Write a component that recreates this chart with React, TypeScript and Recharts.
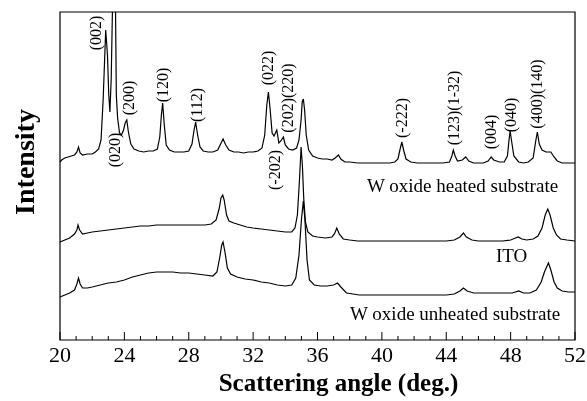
import React from 'react';
import { LineChart, Line, XAxis, YAxis, ReferenceArea, ReferenceDot, Label } from 'recharts';

const angleTicks = [20, 21, 22, 23, 24, 25, 26, 27, 28, 29, 30, 31, 32, 33, 34, 35, 36, 37, 38, 39, 40, 41, 42, 43, 44, 45, 46, 47, 48, 49, 50, 51, 52];
const labeledTicks = [20, 24, 28, 32, 36, 40, 44, 48, 52];

// [scattering angle (deg), intensity (arb.)]
const heatedScan: [number, number][] = [
  [20.0, 178], [20.1, 180], [20.3, 182], [20.5, 183], [20.7, 184], [20.9, 185], [21.05, 188], [21.15, 193], [21.25, 187],
  [21.4, 185], [21.7, 186], [22.0, 186], [22.2, 188], [22.4, 191], [22.55, 200], [22.68, 240], [22.84, 310], [22.95, 285],
  [23.03, 245], [23.1, 228], [23.18, 260], [23.27, 340], [23.37, 420], [23.45, 330], [23.5, 245], [23.58, 222], [23.7, 207],
  [23.82, 205], [23.95, 210], [24.05, 217], [24.15, 220], [24.25, 208], [24.4, 196], [24.6, 191], [24.9, 189], [25.2, 188],
  [25.5, 189], [25.8, 189], [26.05, 191], [26.2, 203], [26.3, 225], [26.38, 237], [26.48, 215], [26.6, 195], [26.8, 190],
  [27.1, 188], [27.4, 188], [27.7, 188], [28.0, 189], [28.2, 196], [28.33, 210], [28.43, 218], [28.55, 205], [28.7, 193],
  [28.9, 189], [29.2, 188], [29.5, 188], [29.8, 190], [29.95, 195], [30.13, 201], [30.3, 195], [30.5, 190], [30.8, 188],
  [31.1, 188], [31.4, 187], [31.7, 188], [32.0, 188], [32.3, 189], [32.55, 192], [32.72, 205], [32.85, 235], [32.95, 248],
  [33.05, 232], [33.18, 207], [33.3, 204], [33.47, 210], [33.6, 197], [33.72, 199], [33.88, 203], [34.0, 195], [34.2, 191],
  [34.45, 190], [34.7, 192], [34.85, 200], [34.98, 220], [35.05, 238], [35.12, 241], [35.2, 230], [35.3, 205], [35.45, 190],
  [35.7, 184], [36.0, 182], [36.3, 181], [36.6, 181], [36.9, 180], [37.1, 182], [37.3, 185], [37.45, 181], [37.7, 178],
  [38.0, 178], [38.5, 177], [39.0, 177], [39.5, 177], [40.0, 177], [40.5, 177], [40.8, 178], [41.0, 181], [41.12, 190],
  [41.24, 198], [41.35, 190], [41.5, 181], [41.8, 178], [42.2, 177], [42.6, 177], [43.0, 177], [43.4, 177], [43.8, 177],
  [44.2, 178], [44.35, 184], [44.44, 190], [44.55, 184], [44.7, 179], [45.0, 180], [45.21, 183], [45.4, 179], [45.7, 177],
  [46.0, 177], [46.3, 177], [46.6, 179], [46.79, 183], [46.95, 180], [47.3, 178], [47.6, 178], [47.8, 184], [47.9, 200],
  [47.97, 209], [48.05, 200], [48.2, 184], [48.5, 178], [48.8, 177], [49.1, 178], [49.4, 182], [49.55, 198], [49.66, 208],
  [49.78, 196], [49.95, 190], [50.2, 188], [50.5, 188], [50.7, 183], [50.9, 179], [51.2, 177], [51.5, 177], [51.8, 177],
  [52.0, 177],
];

const itoScan: [number, number][] = [
  [20.0, 98], [20.3, 100], [20.6, 102], [20.9, 106], [21.05, 110], [21.12, 115], [21.22, 110], [21.4, 106], [21.7, 107],
  [22.0, 108], [22.5, 109], [23.0, 110], [23.5, 111], [24.0, 112], [24.5, 113], [25.0, 114], [25.5, 114], [26.0, 115],
  [26.5, 115], [27.0, 115], [27.5, 115], [28.0, 115], [28.5, 115], [29.0, 115], [29.4, 116], [29.7, 120], [29.9, 132],
  [30.0, 142], [30.11, 145], [30.2, 140], [30.35, 125], [30.5, 119], [30.8, 117], [31.2, 115], [31.6, 113], [32.0, 112],
  [32.5, 111], [33.0, 110], [33.5, 109], [34.0, 108], [34.4, 108], [34.6, 112], [34.75, 125], [34.88, 160], [34.98, 193],
  [35.06, 175], [35.15, 140], [35.25, 118], [35.4, 108], [35.7, 104], [36.0, 103], [36.5, 102], [36.9, 103], [37.05, 106],
  [37.2, 112], [37.35, 106], [37.6, 101], [38.0, 100], [38.5, 99], [39.0, 99], [39.5, 99], [40.0, 99], [40.5, 99],
  [41.0, 99], [41.5, 99], [42.0, 99], [42.5, 99], [43.0, 99], [43.5, 99], [44.0, 99], [44.5, 100], [44.85, 103],
  [45.07, 107], [45.25, 103], [45.6, 100], [46.0, 99], [46.5, 99], [47.0, 99], [47.5, 99], [48.0, 100], [48.3, 102],
  [48.47, 103], [48.7, 101], [49.0, 100], [49.4, 101], [49.7, 104], [49.95, 112], [50.15, 125], [50.31, 131], [50.45, 125],
  [50.65, 112], [50.85, 105], [51.1, 101], [51.5, 100], [52.0, 99],
];

const unheatedScan: [number, number][] = [
  [20.0, 43], [20.3, 45], [20.6, 47], [20.9, 50], [21.05, 56], [21.15, 62], [21.25, 56], [21.4, 52], [21.7, 52],
  [22.0, 53], [22.5, 55], [23.0, 57], [23.5, 58], [24.0, 60], [24.5, 63], [25.0, 65], [25.5, 67], [26.0, 68],
  [26.5, 68], [27.0, 68], [27.5, 67], [28.0, 67], [28.5, 66], [29.0, 65], [29.5, 64], [29.75, 68], [29.92, 82],
  [30.05, 95], [30.13, 98], [30.25, 88], [30.4, 72], [30.6, 66], [31.0, 63], [31.5, 61], [32.0, 60], [32.5, 58],
  [33.0, 57], [33.5, 55], [34.0, 54], [34.4, 55], [34.65, 62], [34.85, 85], [35.0, 120], [35.12, 139], [35.22, 120],
  [35.35, 80], [35.5, 60], [35.8, 55], [36.2, 54], [36.6, 54], [37.0, 55], [37.25, 57], [37.45, 53], [37.8, 47],
  [38.2, 46], [38.6, 45], [39.0, 45], [39.5, 45], [40.0, 45], [40.5, 45], [41.0, 45], [41.5, 45], [42.0, 45],
  [42.5, 45], [43.0, 45], [43.5, 45], [44.0, 45], [44.5, 46], [44.85, 49], [45.07, 52], [45.3, 49], [45.7, 47],
  [46.2, 47], [46.7, 47], [47.2, 47], [47.7, 47], [48.1, 47], [48.5, 49], [48.8, 47], [49.2, 47], [49.6, 50],
  [49.9, 58], [50.1, 68], [50.35, 77], [50.5, 70], [50.7, 58], [50.9, 52], [51.2, 49], [51.6, 48], [52.0, 48],
];

const peakLabels: { hkl: string; angle: number; level: number }[] = [
  { hkl: '(002)', angle: 22.18, level: 307 },
  { hkl: '(020)', angle: 23.36, level: 190 },
  { hkl: '(200)', angle: 24.26, level: 242 },
  { hkl: '(120)', angle: 26.37, level: 255 },
  { hkl: '(112)', angle: 28.5, level: 235 },
  { hkl: '(022)', angle: 32.88, level: 272 },
  { hkl: '(202)(220)', angle: 34.15, level: 242 },
  { hkl: '(-202)', angle: 33.3, level: 170 },
  { hkl: '(-222)', angle: 41.24, level: 222 },
  { hkl: '(123)(1-32)', angle: 44.44, level: 232 },
  { hkl: '(004)', angle: 46.77, level: 208 },
  { hkl: '(040)', angle: 47.97, level: 225 },
  { hkl: '(400)(140)', angle: 49.63, level: 246 },
];

const sampleLabels: { name: string; angle: number; level: number; anchor: 'end' | 'middle' }[] = [
  { name: 'W oxide heated substrate', angle: 50.95, level: 148, anchor: 'end' },
  { name: 'ITO', angle: 48.06, level: 78, anchor: 'middle' },
  { name: 'W oxide unheated substrate', angle: 51.08, level: 20, anchor: 'end' },
];

const toRows = (scan: [number, number][]) => scan.map(([angle, counts]) => ({ angle, counts }));
const heatedData = toRows(heatedScan);
const itoData = toRows(itoScan);
const unheatedData = toRows(unheatedScan);

const FONT = '"Liberation Serif", "Times New Roman", serif';

const BottomTick = (props: any) => {
  const { x, y, payload } = props;
  const v = payload.value;
  const major = v % 4 === 0;
  return (
    <g>
      <line x1={x} x2={x} y1={y} y2={y - (major ? 8 : 4)} stroke="#000" strokeWidth={1} />
      {major && labeledTicks.includes(v) && (
        <text x={x} y={y + 22} textAnchor="middle" fontSize={22} fontFamily={FONT} fill="#000">
          {v}
        </text>
      )}
    </g>
  );
};

const TopTick = (props: any) => {
  const { x, y, payload } = props;
  const major = payload.value % 4 === 0;
  return <line x1={x} x2={x} y1={y} y2={y + (major ? 8 : 4)} stroke="#000" strokeWidth={1} />;
};

export default function App() {
  return (
    <div style={{ position: 'fixed', left: 0, top: 0, width: 587, height: 401, overflow: 'hidden' }}>
      <LineChart width={587} height={401} margin={{ top: 11, right: 12, left: 60, bottom: 0 }}>
        <XAxis
          xAxisId="b"
          dataKey="angle"
          type="number"
          domain={[20, 52]}
          ticks={angleTicks}
          interval={0}
          tickSize={0}
          tickMargin={0}
          axisLine={false}
          tick={<BottomTick />}
          height={61}
          allowDuplicatedCategory={false}
        >
          <Label
            content={(p: any) => {
              const vb = p.viewBox;
              const lx = 24;
              const ly = 162;
              return (
                <g>
                  <text x={vb.x + vb.width / 2 + 21} y={vb.y + 51} textAnchor="middle" fontSize={25} fontWeight="bold" fontFamily={FONT} fill="#000">
                    Scattering angle (deg.)
                  </text>
                  <text x={lx} y={ly} transform={`rotate(-90 ${lx} ${ly})`} textAnchor="middle" dominantBaseline="central" fontSize={28} fontWeight="bold" fontFamily={FONT} fill="#000">
                    Intensity
                  </text>
                </g>
              );
            }}
          />
        </XAxis>
        <XAxis
          xAxisId="t"
          orientation="top"
          dataKey="angle"
          type="number"
          domain={[20, 52]}
          ticks={angleTicks}
          interval={0}
          tickSize={0}
          tickMargin={0}
          axisLine={false}
          tick={<TopTick />}
          height={1}
          allowDuplicatedCategory={false}
        />
        <YAxis yAxisId="y" type="number" domain={[0, 328]} allowDataOverflow width={0} tick={false} axisLine={false} tickLine={false} />
        <ReferenceArea xAxisId="b" yAxisId="y" x1={20} x2={52} y1={0} y2={328} fill="none" stroke="#000" strokeWidth={1.2} />
        <Line xAxisId="b" yAxisId="y" data={heatedData} dataKey="counts" stroke="#000" strokeWidth={1.2} dot={false} isAnimationActive={false} type="linear" />
        <Line xAxisId="b" yAxisId="y" data={itoData} dataKey="counts" stroke="#000" strokeWidth={1.2} dot={false} isAnimationActive={false} type="linear" />
        <Line xAxisId="b" yAxisId="y" data={unheatedData} dataKey="counts" stroke="#000" strokeWidth={1.2} dot={false} isAnimationActive={false} type="linear" />
        {peakLabels.map((pl) => (
          <ReferenceDot
            key={pl.hkl}
            xAxisId="b"
            yAxisId="y"
            x={pl.angle}
            y={pl.level}
            r={0}
            fill="none"
            stroke="none"
            label={{
              content: (p: any) => {
                const vb = p.viewBox;
                const cx = vb.x + (vb.width || 0) / 2;
                const cy = vb.y + (vb.height || 0) / 2;
                return (
                  <text x={cx} y={cy} transform={`rotate(-90 ${cx} ${cy})`} textAnchor="middle" dominantBaseline="central" fontSize={16} fontFamily={FONT} fill="#000">
                    {pl.hkl}
                  </text>
                );
              },
            }}
          />
        ))}
        {sampleLabels.map((sl) => (
          <ReferenceDot
            key={sl.name}
            xAxisId="b"
            yAxisId="y"
            x={sl.angle}
            y={sl.level}
            r={0}
            fill="none"
            stroke="none"
            label={{
              content: (p: any) => {
                const vb = p.viewBox;
                const cx = vb.x + (vb.width || 0) / 2;
                const cy = vb.y + (vb.height || 0) / 2;
                return (
                  <text x={cx} y={cy} textAnchor={sl.anchor} fontSize={19} fontFamily={FONT} fill="#000">
                    {sl.name}
                  </text>
                );
              },
            }}
          />
        ))}
      </LineChart>
    </div>
  );
}
